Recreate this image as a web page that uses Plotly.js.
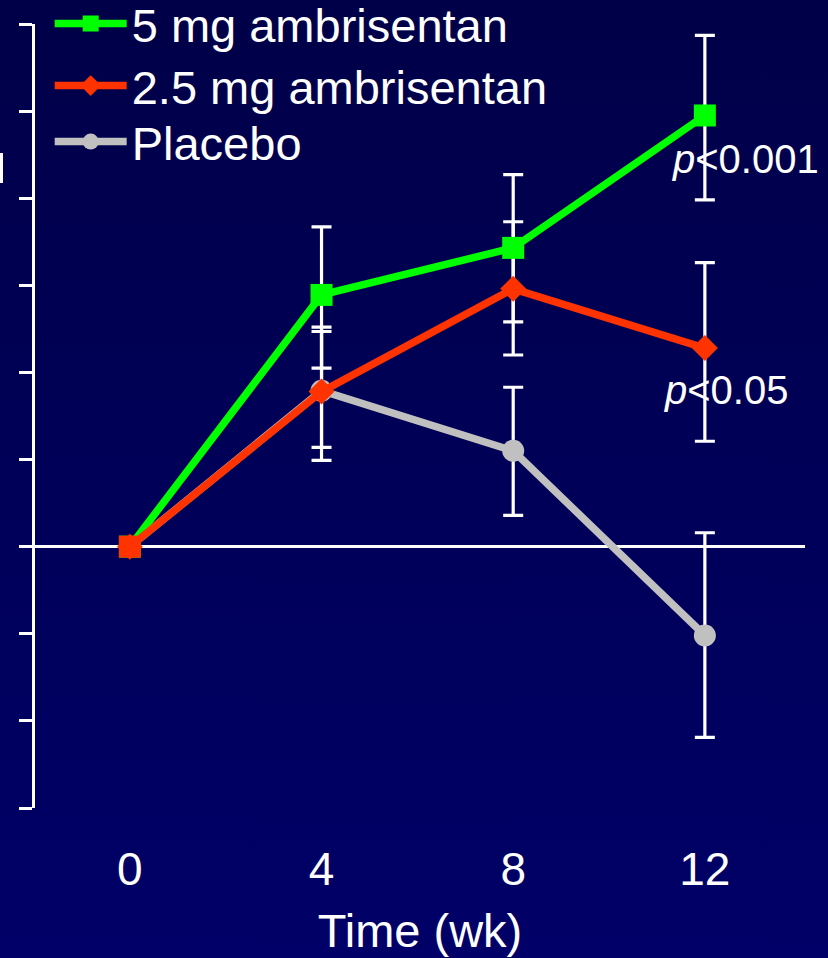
<!DOCTYPE html>
<html>
<head>
<meta charset="utf-8">
<script src="https://cdn.plot.ly/plotly-3.0.1.min.js"></script>
<style>
  html, body { margin: 0; padding: 0; }
  body { background: linear-gradient(#000048, #000068); width: 828px; height: 958px; overflow: hidden; }
  #chart { width: 828px; height: 958px; }
</style>
</head>
<body>
<div id="chart"></div>
<script>
// Mean change in walk distance over time (m), with error bars
const weeks = [0, 4, 8, 12];
const weekLabels = ['0', '4', '8', '12'];

const amb5 = [0, 28.9, 34.3, 49.5];
const amb5ErrPlus = [null, 7.8, 8.4, 9.2];
const amb5ErrMinus = [null, 8.4, 8.5, 9.7];

const amb25 = [0, 17.8, 29.6, 22.8];
const amb25ErrPlus = [null, 7.4, 7.7, 9.8];
const amb25ErrMinus = [null, 7.9, 7.6, 10.7];

const placebo = [0, 17.9, 11.0, -10.2];
const placeboErrPlus = [null, 6.8, 7.3, 11.8];
const placeboErrMinus = [null, 6.5, 7.4, 11.7];

const seriesNames = ['5 mg ambrisentan', '2.5 mg ambrisentan', 'Placebo'];
const pLabels = ['<i>p</i>&lt;0.001', '<i>p</i>&lt;0.05'];

const FONT = 'Liberation Sans, Arial, sans-serif';

function errBar(y, plus, minus) {
  return {
    x: weeks, y: y, type: 'scatter', mode: 'markers',
    marker: { size: 1, color: 'rgba(0,0,0,0)' },
    error_y: { type: 'data', symmetric: false, array: plus, arrayminus: minus,
               color: '#ffffff', thickness: 3.2, width: 10 },
    showlegend: false, hoverinfo: 'skip'
  };
}

const traces = [
  // error bars sit below every line and marker
  errBar(placebo, placeboErrPlus, placeboErrMinus),
  errBar(amb5, amb5ErrPlus, amb5ErrMinus),
  errBar(amb25, amb25ErrPlus, amb25ErrMinus),
  {
    x: weeks, y: placebo, name: seriesNames[2], type: 'scatter', mode: 'lines+markers',
    line: { color: '#c0c0c0', width: 7.5 },
    marker: { symbol: 'circle', size: 22, color: '#c0c0c0' },
    legend: 'legend3'
  },
  {
    x: weeks, y: amb5, name: seriesNames[0], type: 'scatter', mode: 'lines+markers',
    line: { color: '#00ff00', width: 7.5 },
    marker: { symbol: 'square', size: 22, color: '#00ff00' },
    legend: 'legend'
  },
  {
    x: weeks, y: amb25, name: seriesNames[1], type: 'scatter', mode: 'lines+markers',
    line: { color: '#ff3300', width: 7.5 },
    marker: { symbol: 'diamond', size: 20, color: '#ff3300' },
    legend: 'legend2'
  },
  // shared baseline point drawn on top
  {
    x: weeks.slice(0, 1), y: amb25.slice(0, 1), type: 'scatter', mode: 'markers',
    marker: { symbol: 'square', size: 22, color: '#ff3300' },
    showlegend: false, hoverinfo: 'skip'
  }
];

function legendAt(yMid) {
  return {
    xref: 'container', yref: 'container', x: 0.06, y: yMid, xanchor: 'left', yanchor: 'middle',
    bgcolor: 'rgba(0,0,0,0)', borderwidth: 0,
    font: { family: FONT, size: 47, color: '#ffffff' },
    itemwidth: 72, tracegroupgap: 0
  };
}

const layout = {
  width: 828, height: 958,
  paper_bgcolor: 'rgba(0,0,0,0)',
  plot_bgcolor: 'rgba(0,0,0,0)',
  margin: { l: 35, r: 23, t: 24, b: 150, autoexpand: false },
  font: { family: FONT, color: '#ffffff' },
  showlegend: true,
  legend: legendAt(1 - 24 / 958),
  legend2: legendAt(1 - 86 / 958),
  legend3: legendAt(1 - 142 / 958),
  xaxis: {
    range: [-1.98, 14.09],
    tickvals: weeks, ticktext: weekLabels,
    ticks: '', showline: false, showgrid: false, zeroline: false,
    tickfont: { family: FONT, size: 46, color: '#ffffff' },
    ticklabelstandoff: 30,
    title: { text: 'Time (wk)', font: { family: FONT, size: 47, color: '#ffffff' }, standoff: 20 },
    fixedrange: true
  },
  yaxis: {
    range: [-30, 60], dtick: 10, tick0: 0,
    showticklabels: false, showgrid: false,
    showline: true, linecolor: '#ffffff', linewidth: 3,
    ticks: 'outside', ticklen: 13, tickwidth: 3, tickcolor: '#ffffff',
    zeroline: true, zerolinecolor: '#ffffff', zerolinewidth: 3,
    fixedrange: true
  },
  annotations: [
    { x: 11.27, y: 44.5, xref: 'x', yref: 'y', text: pLabels[0], showarrow: false,
      xanchor: 'left', yanchor: 'middle', font: { family: FONT, size: 40, color: '#ffffff' } },
    { x: 11.10, y: 18.0, xref: 'x', yref: 'y', text: pLabels[1], showarrow: false,
      xanchor: 'left', yanchor: 'middle', font: { family: FONT, size: 40, color: '#ffffff' } }
  ],
  shapes: [
    // sliver of the clipped axis title at the left edge
    { type: 'rect', xref: 'paper', yref: 'paper', x0: -35 / 770, x1: -32 / 770,
      y0: (808 - 183) / 784, y1: (808 - 153) / 784, fillcolor: '#ffffff', line: { width: 0 } }
  ]
};

Plotly.newPlot('chart', traces, layout, { displayModeBar: false, staticPlot: true });
</script>
</body>
</html>
